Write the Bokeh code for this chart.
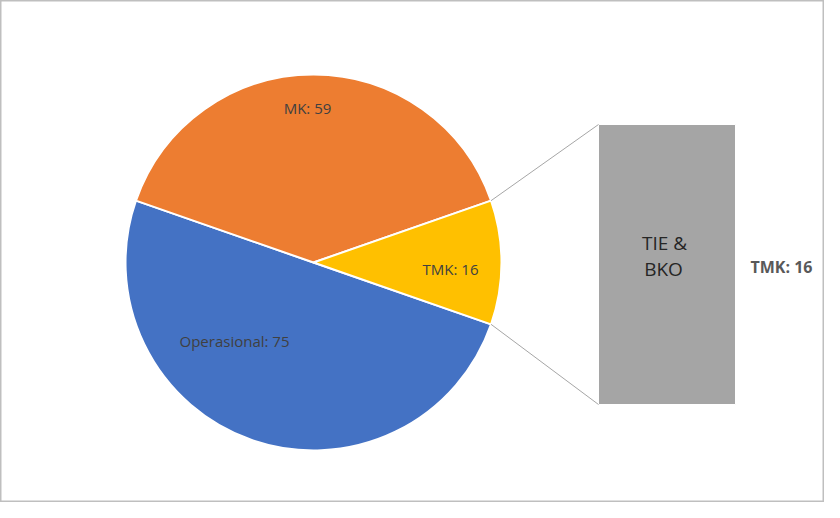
import math
from bokeh.plotting import figure
from bokeh.models import Range1d
from bokeh.core.properties import value
from bokeh.embed import file_html
from bokeh.resources import INLINE

# data
categories = ["Operasional", "MK", "TMK"]
values = [75, 59, 16]
colors = ["#4472C4", "#ED7D31", "#FFC000"]
bar_category = "TIE & BKO"
bar_value = 16
bar_color = "#A5A5A5"

W, H = 824, 502
p = figure(width=W, height=H, x_range=Range1d(0, W), y_range=Range1d(0, H),
           output_backend="svg", toolbar_location=None, min_border=0)
p.axis.visible = False
p.grid.visible = False
p.outline_line_color = "#BFBFBF"
p.outline_line_width = 2
p.background_fill_color = "white"

cx, cy, r = 313, 240, 188
total = sum(values)
angles = [v / total * 2 * math.pi for v in values]
tmk_a = angles[2]
starts = {}
a = tmk_a / 2
starts["MK"] = (a, a + angles[1]); a += angles[1]
starts["Operasional"] = (a, a + angles[0]); a += angles[0]
starts["TMK"] = (-tmk_a / 2, tmk_a / 2)

for cat, col in zip(categories, colors):
    s, e = starts[cat]
    p.wedge(x=[cx], y=[cy], radius=r, start_angle=[s], end_angle=[e],
            fill_color=col, line_color="white", line_width=2)

label_font = value("Open Sans")
txt_col = "#404040"
label_pos = {"MK": (307, 395), "TMK": (450, 234), "Operasional": (234, 162)}
for cat, v in zip(categories, values):
    x, y = label_pos[cat]
    p.text(x=[x], y=[y], text=[f"{cat}: {v}"], text_align="center",
           text_baseline="middle", text_font=label_font, text_font_size="15px",
           text_color=txt_col)

# bar of pie
bx0, bx1 = 598, 735
by0, by1 = 98, 378
bar_h = (by1 - by0) / bar_value * bar_value
p.quad(left=[bx0], right=[bx1], bottom=[by0], top=[by0 + bar_h],
       fill_color=bar_color, line_color="white", line_width=1)

# connector lines
ux, uy = cx + r * math.cos(tmk_a / 2), cy + r * math.sin(tmk_a / 2)
lx, ly = cx + r * math.cos(-tmk_a / 2), cy + r * math.sin(-tmk_a / 2)
p.line(x=[ux, bx0], y=[uy, by0 + bar_h], line_color="#A6A6A6", line_width=1)
p.line(x=[lx, bx0], y=[ly, by0], line_color="#A6A6A6", line_width=1)

p.text(x=[664], y=[260], text=["TIE &"], text_align="center",
       text_baseline="middle", text_font=label_font, text_font_size="19px",
       text_color="#262626")
p.text(x=[663], y=[234], text=["BKO"], text_align="center",
       text_baseline="middle", text_font=label_font, text_font_size="19px",
       text_color="#262626")
p.text(x=[750], y=[236], text=[f"TMK: {bar_value}"], text_align="left",
       text_baseline="middle", text_font=label_font, text_font_size="16px",
       text_font_style="bold", text_color="#595959")

open("out.html", "w").write(file_html(p, INLINE))
